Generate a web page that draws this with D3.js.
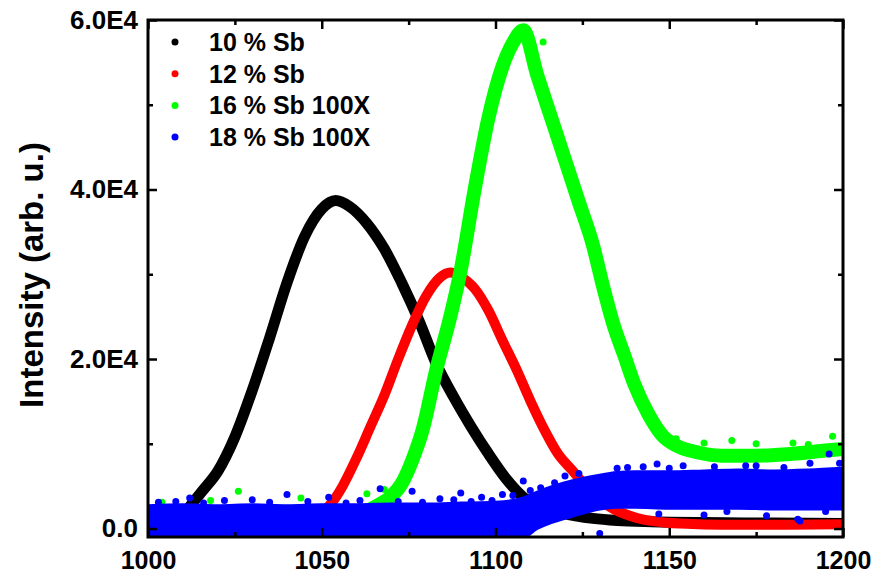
<!DOCTYPE html>
<html>
<head>
<meta charset="utf-8">
<script src="https://cdn.jsdelivr.net/npm/d3@7"></script>
<style>
  body { margin: 0; background: #fff; }
  text { font-family: "Liberation Sans", Arial, sans-serif; font-weight: bold; }
</style>
</head>
<body>
<svg width="876" height="576"></svg>
<script>
// series names and colours
var seriesNames = ["10 % Sb", "12 % Sb", "16 % Sb 100X", "18 % Sb 100X"];
var seriesColors = ["#000000", "#ff0000", "#00ff00", "#0000ff"];

// 10 % Sb
var blackX = [1000,1005,1010,1013,1016,1020,1025,1030,1035,1040,1045,1050,1054,1058,1063,1068,1073,1078,1083,1088,1093,1098,1103,1108,1113,1118,1123,1128,1135,1145,1160,1180,1200];
var blackY = [300,600,1600,3100,4600,6700,10800,16300,22500,29000,34400,37700,38700,38000,36000,33000,29000,24500,19400,15500,12000,8800,5900,3700,2500,1900,1500,1200,950,800,700,650,600];

// 12 % Sb
var redX = [1045,1050,1053,1056,1060,1064,1068,1072,1076,1080,1084,1087,1090,1094,1098,1102,1106,1110,1114,1118,1122,1126,1130,1134,1138,1142,1148,1155,1165,1180,1200];
var redY = [800,1900,3100,5000,8300,12000,15700,20000,24000,27400,29600,30200,29700,28300,25700,22200,18800,15100,11700,8800,6900,5000,3400,2300,1600,1100,750,550,450,450,500];

// 16 % Sb 100X (centre of the band)
var greenX = [1000,1020,1040,1055,1062,1066,1070,1073,1076,1079,1083,1087,1090,1094,1098,1102,1105,1108,1112,1116,1120,1124,1128,1131,1134,1137,1140,1144,1148,1152,1158,1165,1175,1185,1195,1200];
var greenY = [1500,1600,1700,1900,2000,2700,3800,5300,8000,11600,18800,25000,30500,40000,48500,54500,57300,58800,53500,48500,43500,38500,33500,28500,24000,20500,17000,13500,11000,9800,9000,8600,8600,8800,9200,9400];

// 18 % Sb 100X (band limits)
var blueX  = [1000,1010,1020,1030,1040,1050,1060,1070,1080,1090,1100,1105,1108,1112,1116,1120,1125,1130,1135,1140,1150,1160,1170,1180,1190,1200];
var blueLo = [-1000,-1000,-1000,-1000,-1000,-1000,-1000,-1000,-1000,-1000,-1000,-1000,-1000,0,700,1200,1800,2300,2500,2500,2400,2400,2400,2300,2300,2300];
var blueHi = [2700,2800,2700,2800,2700,2800,2800,2900,2900,3000,3100,3300,3600,4300,4900,5400,5900,6300,6600,6700,6700,6800,6900,6800,6900,7100];

// scattered points outside the bands
var greenDotsX = [1026,1044,1063,1068,1113.7,1110,1160,1175,1185.6,1197,1168,1152,1190,1004,1018];
var greenDotsY = [4400,3600,4100,4600,57400,56000,10100,10000,10100,10900,10400,10600,9900,3100,3300];
var blueDotsX = [1040,1066.8,1076,1090,1102,1108,1113,1012,1052,1084,1030,1096,1135,1142.5,1146.5,1154,1190.5,1196,1147,1166.6,1195,1187,1130,1187.6,1120,1124,1160,1178,1172,
  1003,1008,1016,1022,1035,1046,1057,1061,1072,1079,1088,1093,1099,1105,1110,1117,1138,1150,1163,1175,1183,1199];
var blueDotsY = [4000,4700,4400,4200,4000,5600,4800,3600,3700,3500,3400,3700,7100,7300,7600,7400,7700,8800,1700,2000,2000,1100,-600,900,6200,6500,1600,1500,7400,
  3100,3200,3000,3300,3100,3200,3000,3300,3200,3100,3400,3200,3300,3900,4500,5400,7200,7100,7300,7400,7200,7700];

// axis ticks
var xTicks = [1000,1050,1100,1150,1200];
var xTickLabels = ["1000","1050","1100","1150","1200"];
var xMinor = [1025,1075,1125,1175];
var yTicks = [0,20000,40000,60000];
var yTickLabels = ["0.0","2.0E4","4.0E4","6.0E4"];
var yMinor = [10000,30000,50000];

var svg = d3.select("svg");

var pLeft = 148, pRight = 843, pTop = 20, pBottom = 537;

var x = d3.scaleLinear().domain([1000, 1200]).range([pLeft, pRight]);
var y = d3.scaleLinear().domain([-1000, 60000]).range([pBottom, pTop]);

var toPts = function(xs, ys) { return xs.map(function(d, i) { return [d, ys[i]]; }); };

svg.append("defs").append("clipPath").attr("id", "plot")
  .append("rect").attr("x", pLeft).attr("y", pTop).attr("width", pRight - pLeft).attr("height", pBottom - pTop);

var plot = svg.append("g").attr("clip-path", "url(#plot)");

var line = d3.line()
  .x(function(d) { return x(d[0]); })
  .y(function(d) { return y(d[1]); })
  .curve(d3.curveMonotoneX);

// black
plot.append("path")
  .datum(toPts(blackX, blackY))
  .attr("fill", "none")
  .attr("stroke", seriesColors[0])
  .attr("stroke-width", 11)
  .attr("stroke-linejoin", "round")
  .attr("stroke-linecap", "round")
  .attr("d", line);

// red
plot.append("path")
  .datum(toPts(redX, redY))
  .attr("fill", "none")
  .attr("stroke", seriesColors[1])
  .attr("stroke-width", 10)
  .attr("stroke-linejoin", "round")
  .attr("stroke-linecap", "round")
  .attr("d", line);

// green
plot.append("path")
  .datum(toPts(greenX, greenY))
  .attr("fill", "none")
  .attr("stroke", seriesColors[2])
  .attr("stroke-width", 14)
  .attr("stroke-linejoin", "round")
  .attr("stroke-linecap", "round")
  .attr("d", line);

plot.selectAll(".gdot")
  .data(toPts(greenDotsX, greenDotsY))
  .enter().append("circle")
  .attr("cx", function(d) { return x(d[0]); })
  .attr("cy", function(d) { return y(d[1]); })
  .attr("r", 3.5)
  .attr("fill", seriesColors[2]);

// blue band
var area = d3.area()
  .x(function(d) { return x(d[0]); })
  .y0(function(d) { return y(d[1]); })
  .y1(function(d) { return y(d[2]); })
  .curve(d3.curveMonotoneX);

plot.append("path")
  .datum(blueX.map(function(d, i) { return [d, blueLo[i], blueHi[i]]; }))
  .attr("fill", seriesColors[3])
  .attr("stroke", seriesColors[3])
  .attr("stroke-width", 3)
  .attr("d", area);

plot.selectAll(".bdot")
  .data(toPts(blueDotsX, blueDotsY))
  .enter().append("circle")
  .attr("cx", function(d) { return x(d[0]); })
  .attr("cy", function(d) { return y(d[1]); })
  .attr("r", 3.5)
  .attr("fill", seriesColors[3]);

// axes, ticks pointing inward
var addAxis = function(axis, tx, ty, labels, fs) {
  var g = svg.append("g")
    .attr("transform", "translate(" + tx + "," + ty + ")")
    .call(axis);
  g.select(".domain").remove();
  g.selectAll(".tick line").attr("stroke", "#000").attr("stroke-width", 2.5);
  g.selectAll("text").attr("font-size", fs).attr("fill", "#000")
    .style("font-family", "'Liberation Sans', Arial, sans-serif").style("font-weight", "bold");
  if (!labels) g.selectAll("text").remove();
  return g;
};

addAxis(d3.axisBottom(x).tickValues(xTicks).tickSize(-9).tickPadding(14)
  .tickFormat(function(d, i) { return xTickLabels[i]; }), 0, pBottom, true, 25);
addAxis(d3.axisBottom(x).tickValues(xMinor).tickSize(-5), 0, pBottom, false);
addAxis(d3.axisTop(x).tickValues(xTicks).tickSize(-9), 0, pTop, false);
addAxis(d3.axisTop(x).tickValues(xMinor).tickSize(-5), 0, pTop, false);

addAxis(d3.axisLeft(y).tickValues(yTicks).tickSize(-9).tickPadding(10)
  .tickFormat(function(d, i) { return yTickLabels[i]; }), pLeft, 0, true, 26);
addAxis(d3.axisLeft(y).tickValues(yMinor).tickSize(-5), pLeft, 0, false);
addAxis(d3.axisRight(y).tickValues(yTicks).tickSize(-9), pRight, 0, false);
addAxis(d3.axisRight(y).tickValues(yMinor).tickSize(-5), pRight, 0, false);

svg.append("rect")
  .attr("x", pLeft).attr("y", pTop)
  .attr("width", pRight - pLeft).attr("height", pBottom - pTop)
  .attr("fill", "none")
  .attr("stroke", "#000")
  .attr("stroke-width", 3);

// y label
svg.append("text")
  .attr("transform", "translate(43," + 275 + ") rotate(-90)")
  .attr("text-anchor", "middle")
  .attr("font-size", 33)
  .text("Intensity (arb. u.)");

// legend
var legend = svg.append("g");
seriesNames.forEach(function(name, i) {
  var ly = 42 + i * 31.7;
  legend.append("circle").attr("cx", 175).attr("cy", ly).attr("r", 3.5).attr("fill", seriesColors[i]);
  legend.append("text").attr("x", 209).attr("y", ly).attr("dy", "0.36em")
    .attr("font-size", 25).text(name);
});
</script>
</body>
</html>
